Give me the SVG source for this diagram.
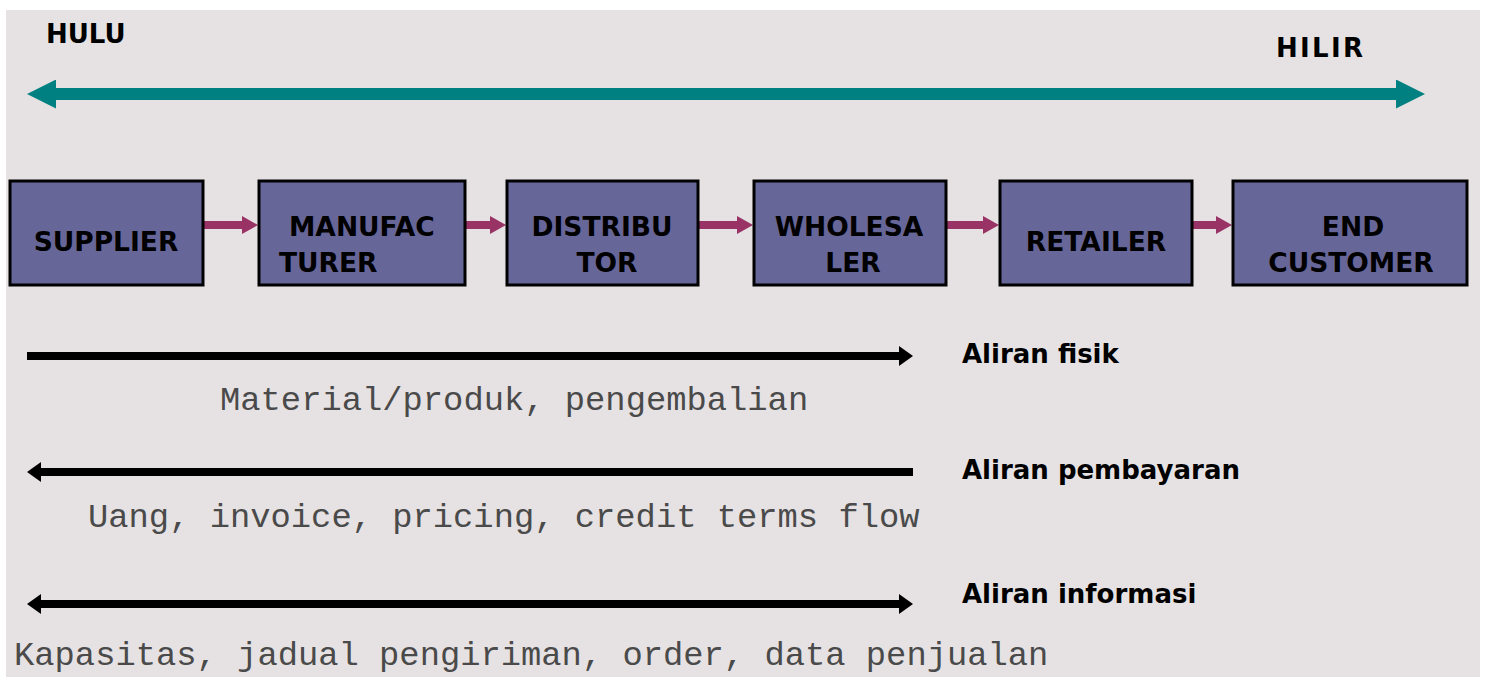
<svg xmlns="http://www.w3.org/2000/svg" width="1487" height="677" viewBox="0 0 1487 677">
<style>
.box{fill:#666699;stroke:#000;stroke-width:3}
.bl{font-family:"DejaVu Sans",Verdana,sans-serif;font-weight:bold;font-size:26.5px;fill:#000}
.lg{font-family:"DejaVu Sans",Verdana,sans-serif;font-weight:bold;font-size:26px;fill:#000}
.mono{font-family:"Liberation Mono","Courier New",monospace;font-size:33.8px;fill:#4a4a4a}
.teal{stroke:#008080;stroke-width:12}
.mag{stroke:#993366;stroke-width:8}
.blk{stroke:#000;stroke-width:8}
</style>
<defs>
<marker id="mt" markerUnits="userSpaceOnUse" viewBox="0 0 29 29" markerWidth="29" markerHeight="29" refX="0" refY="14.5" orient="auto-start-reverse"><path d="M0,0 L29,14.5 L0,29 Z" fill="#008080"/></marker>
<marker id="mm" markerUnits="userSpaceOnUse" viewBox="0 0 16 18" markerWidth="16" markerHeight="18" refX="0" refY="9" orient="auto-start-reverse"><path d="M0,0 L16,9 L0,18 Z" fill="#993366"/></marker>
<marker id="mb" markerUnits="userSpaceOnUse" viewBox="0 0 14 20" markerWidth="14" markerHeight="20" refX="0" refY="10" orient="auto-start-reverse"><path d="M0,0 L14,10 L0,20 Z" fill="#000"/></marker>
</defs>
<rect x="6" y="10" width="1474" height="667" fill="#e6e2e3"/>
<text class="lg" x="46" y="43">HULU</text>
<text class="lg" x="1276" y="57" textLength="87">HILIR</text>
<g id="connectors">
<line class="teal" x1="56" y1="94" x2="1396" y2="94" marker-start="url(#mt)" marker-end="url(#mt)"/>
<line class="mag" x1="203" y1="225" x2="242" y2="225" marker-end="url(#mm)"/>
<line class="mag" x1="448" y1="225" x2="490" y2="225" marker-end="url(#mm)"/>
<line class="mag" x1="698" y1="225" x2="737" y2="225" marker-end="url(#mm)"/>
<line class="mag" x1="946" y1="225" x2="983" y2="225" marker-end="url(#mm)"/>
<line class="mag" x1="1192" y1="225" x2="1216" y2="225" marker-end="url(#mm)"/>
<line class="blk" x1="27" y1="356" x2="899" y2="356" marker-end="url(#mb)"/>
<line class="blk" x1="913" y1="472" x2="41" y2="472" marker-end="url(#mb)"/>
<line class="blk" x1="41" y1="604" x2="899" y2="604" marker-start="url(#mb)" marker-end="url(#mb)"/>
</g>
<g id="supplier"><rect class="box" x="10" y="181" width="193" height="104"/><text class="bl" x="106" y="251" text-anchor="middle">SUPPLIER</text></g>
<g id="manufacturer"><rect class="box" x="259" y="181" width="206" height="104"/><text class="bl" x="289" y="236">MANUFAC</text><text class="bl" x="279" y="272">TURER</text></g>
<g id="distributor"><rect class="box" x="507" y="181" width="191" height="104"/><text class="bl" x="602" y="236" text-anchor="middle">DISTRIBU</text><text class="bl" x="607" y="272" text-anchor="middle">TOR</text></g>
<g id="wholesaler"><rect class="box" x="754" y="181" width="192" height="104"/><text class="bl" x="849" y="236" text-anchor="middle">WHOLESA</text><text class="bl" x="853" y="272" text-anchor="middle">LER</text></g>
<g id="retailer"><rect class="box" x="1000" y="181" width="192" height="104"/><text class="bl" x="1096" y="251" text-anchor="middle">RETAILER</text></g>
<g id="endcustomer"><rect class="box" x="1233" y="181" width="234" height="104"/><text class="bl" x="1353" y="236" text-anchor="middle">END</text><text class="bl" x="1351" y="272" text-anchor="middle">CUSTOMER</text></g>
<text class="lg" x="962" y="363">Aliran fisik</text>
<text class="mono" x="220" y="410">Material/produk, pengembalian</text>
<text class="lg" x="962" y="479">Aliran pembayaran</text>
<text class="mono" x="88" y="527">Uang, invoice, pricing, credit terms flow</text>
<text class="lg" x="962" y="603">Aliran informasi</text>
<text class="mono" x="14" y="665">Kapasitas, jadual pengiriman, order, data penjualan</text>
</svg>
